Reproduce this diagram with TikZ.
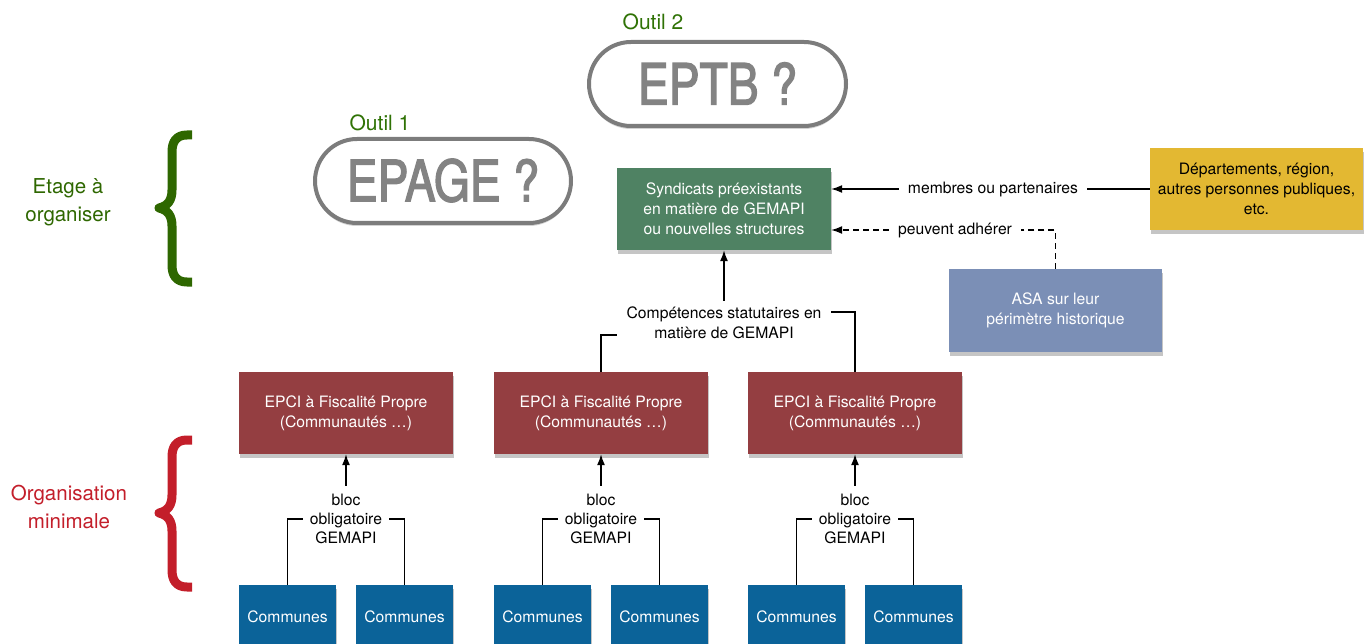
\documentclass[tikz,border=0pt]{standalone}
\usepackage{fontspec}
\setmainfont{TeX Gyre Heros}
\newfontface\pillfont{TeX Gyre Heros}[FakeBold=2.2, FakeStretch=0.81]
\usetikzlibrary{arrows.meta,shadows}
\definecolor{syndgreen}{HTML}{4F8263}
\definecolor{epcired}{HTML}{943E41}
\definecolor{communeblue}{HTML}{0B6399}
\definecolor{deptyellow}{HTML}{E3B832}
\definecolor{asablue}{HTML}{7B8FB6}
\definecolor{pillgray}{HTML}{7C7C7C}
\definecolor{toolgreen}{HTML}{2F7205}
\definecolor{bracegreen}{HTML}{2E6700}
\definecolor{bracered}{HTML}{C31E2A}
\begin{document}
\begin{tikzpicture}[x=1pt,y=-1pt,
  every node/.style={font=\fontsize{15.7}{20}\selectfont},
  box/.style={rectangle, inner sep=0pt, align=center, text=white,
    minimum width=214pt, minimum height=82pt,
    drop shadow={shadow xshift=1pt, shadow yshift=-4pt, fill=black!45}},
  commune/.style={box, fill=communeblue, minimum width=97pt, minimum height=64pt},
  epci/.style={box, fill=epcired},
  lbl/.style={inner xsep=9pt, inner ysep=8pt, align=center},
  conn/.style={line width=1.3pt},
  arr/.style={conn, -{Latex[length=11pt,width=8pt]}},
  dashconn/.style={conn, dash pattern=on 6pt off 4pt},
  pill/.style={draw=pillgray, line width=4pt, fill=white, rounded corners=42pt,
    minimum height=84pt, inner sep=0pt, text=pillgray!95,
    font=\pillfont\fontsize{57}{60}\selectfont,
    drop shadow={shadow xshift=0pt, shadow yshift=-3pt, fill=black!35}},
  tool/.style={text=toolgreen, font=\fontsize{21}{25}\selectfont},
  side/.style={align=center, font=\fontsize{20.5}{28}\selectfont},
  brace/.style={line width=9pt, line cap=butt, line join=round}
]
\useasboundingbox (0,0) rectangle (1372,644);
\clip (0,0) rectangle (1372,644);

% tools on the upper level
\node[pill, minimum width=257pt] (eptb) at (717.5,84) {\raisebox{1pt}{EPTB ?}};
\node[tool] (outil2) at (653,22) {Outil 2};

\node[pill, minimum width=256pt] (epage) at (443,181) {\raisebox{2pt}{EPAGE ?}};
\node[tool] (outil1) at (380,123) {Outil 1};

% side braces and level names
\draw[brace, bracegreen] (192,135) -- (187,135)
  .. controls (176,135) and (172,142) .. (172,152) -- (172,190)
  .. controls (172,200) and (168,206) .. (159,208)
  .. controls (168,210) and (172,216) .. (172,226) -- (172,265)
  .. controls (172,275) and (176,282) .. (187,282) -- (192,282);
\node[side, text=bracegreen] (etage) at (68,202) {Etage à\\organiser};

\draw[brace, bracered] (192,440) -- (187,440)
  .. controls (176,440) and (172,447) .. (172,457) -- (172,495)
  .. controls (172,505) and (168,511) .. (159,513)
  .. controls (168,515) and (172,521) .. (172,531) -- (172,570)
  .. controls (172,580) and (176,587) .. (187,587) -- (192,587);
\node[side, text=bracered] (orga) at (69,507) {Organisation\\minimale};

% structures
\node[box, fill=syndgreen] (synd) at (724,209)
  {Syndicats préexistants\\en matière de GEMAPI\\ou nouvelles structures};
\node[box, fill=deptyellow, text=black, minimum width=213pt] (dept) at (1256.5,189)
  {Départements, région,\\autres personnes publiques,\\etc.};
\node[box, fill=asablue, minimum width=213pt, minimum height=83pt] (asa) at (1055.5,310.5)
  {ASA sur leur\\périmètre historique};

\node[epci] (e1) at (346,413) {EPCI à Fiscalité Propre\\(Communautés …)};
\node[epci] (e2) at (601,413) {EPCI à Fiscalité Propre\\(Communautés …)};
\node[epci] (e3) at (855,413) {EPCI à Fiscalité Propre\\(Communautés …)};

\node[commune] (c1a) at (287.5,617) {Communes};
\node[commune] (c1b) at (404.5,617) {Communes};
\node[commune] (c2a) at (542.5,617) {Communes};
\node[commune] (c2b) at (659.5,617) {Communes};
\node[commune] (c3a) at (796.5,617) {Communes};
\node[commune] (c3b) at (913.5,617) {Communes};

% links to the syndicats
\node[lbl] (mem) at (993,189) {membres ou partenaires};
\draw[arr] (mem.west) -- (mem.west -| synd.east);
\draw[conn] (dept.west) -- (mem.east);

\node[lbl] (adh) at (955,230) {peuvent adhérer};
\draw[dashconn] (asa.north) |- (adh.east);
\draw[dashconn, -{Latex[length=11pt,width=8pt]}] (adh.west) -- (adh.west -| synd.east);

\node[lbl, inner ysep=6pt] (comp) at (724,323) {Compétences statutaires en\\matière de GEMAPI};
\draw[arr] (comp.north) -- (synd.south);
\draw[conn] (e2.north) |- ([yshift=-12pt]comp.west);
\draw[conn] (e3.north) |- ([yshift=11pt]comp.east);

% mandatory block of each EPCI
\foreach \e/\a/\b/\x in {e1/c1a/c1b/346, e2/c2a/c2b/601, e3/c3a/c3b/855}{
  \node[lbl, inner xsep=7pt, font=\fontsize{15.7}{19}\selectfont] (bloc\e) at (\x,519) {bloc\\obligatoire\\GEMAPI};
  \draw[arr] (bloc\e.north) -- (\e.south);
  \draw[conn] (\a.north) |- (bloc\e.west);
  \draw[conn] (\b.north) |- (bloc\e.east);
}
\end{tikzpicture}
\end{document}
